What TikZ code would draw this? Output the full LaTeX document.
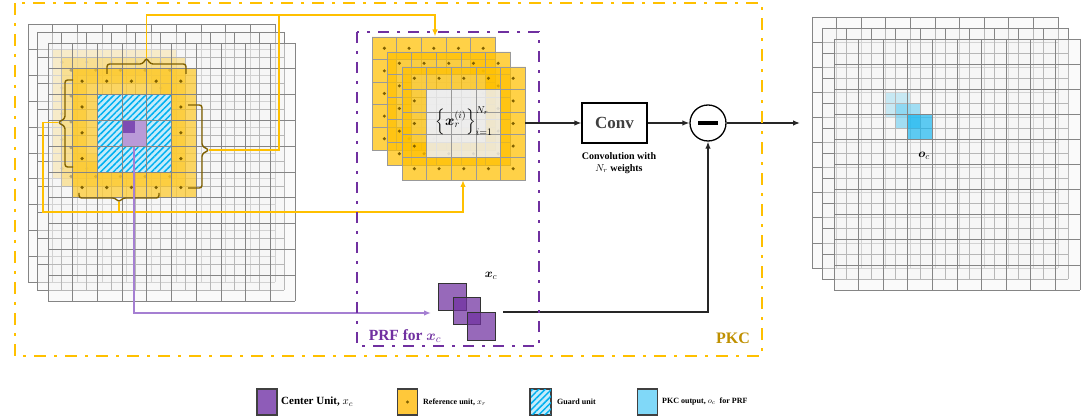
\documentclass[tikz,border=0pt]{standalone}
\usepackage{amsmath}
\usepackage{fontspec}
\setmainfont{Liberation Serif}
\usetikzlibrary{arrows.meta,patterns.meta,calc}
\definecolor{pkcY}{HTML}{FFC000}
\definecolor{pkcT}{HTML}{BF9000}
\definecolor{prfP}{HTML}{7030A0}
\definecolor{braceC}{HTML}{7F6000}
\definecolor{dotC}{HTML}{7F6000}
\definecolor{gridC}{HTML}{858585}
\definecolor{blueC}{HTML}{00B0F0}
\definecolor{lblue}{HTML}{C5EBFA}
\definecolor{purpL}{HTML}{A57FD2}
\definecolor{purpLight}{HTML}{B99AD8}
\definecolor{purpDark}{HTML}{7E4CB3}
\definecolor{legP}{HTML}{8E5CB8}
\definecolor{legY}{HTML}{FFC83A}
\definecolor{legB}{HTML}{80D8F8}
\definecolor{convT}{HTML}{404040}
\tikzset{
  gline/.style={draw=gridC, line width=0.7pt},
  basefill/.style={fill=white!96!black, fill opacity=0.45},
  yline/.style={draw=pkcY, line width=1.8pt},
  pline/.style={draw=purpL, line width=1.5pt},
  kline/.style={draw=black!85, line width=1.3pt},
  arr/.style={-{Latex[length=7pt,width=5.5pt]}},
  bracketsty/.style={draw=braceC, line width=1.4pt, rounded corners=2.5pt, line join=round},
  hatch/.style={pattern={Lines[angle=45,distance=4.5pt,line width=1.5pt]}, pattern color=blueC},
  legsq/.style={draw=black!75, line width=1.2pt, minimum width=20pt, minimum height=26pt, inner sep=0pt},
  legtxt/.style={anchor=west, inner sep=0pt, font=\bfseries\fontsize{8}{9}\selectfont},
  dotsty/.style={fill=dotC},
}
% left input layer: origin, front flag
\newcommand\LLayer[3]{%
\begin{scope}[shift={(#1,#2)}]
  \fill[basefill] (0,0) rectangle (247,258);
  \fill[pkcY, fill opacity=0.6, even odd rule] (24.7,25.8) rectangle (148.2,154.8) (49.4,51.6) rectangle (123.5,129);
  \ifnum#3=1
    \fill[lblue, even odd rule] (49.4,51.6) rectangle (123.5,129) (74.1,77.4) rectangle (98.8,103.2);
    \path[hatch, even odd rule] (49.4,51.6) rectangle (123.5,129) (74.1,77.4) rectangle (98.8,103.2);
    \fill[purpLight] (74.1,77.4) rectangle (98.8,103.2);
    \fill[purpDark] (74.1,77.4) rectangle (87.4,90.3);
  \fi
  \foreach \i in {1,...,5} {
    \fill[dotsty] ({(\i+0.5)*24.7-3},38.2) circle (1.8pt);
    \fill[dotsty] ({(\i+0.5)*24.7-3},144.5) circle (1.8pt);
  }
  \foreach \j in {2,3,4} {
    \fill[dotsty] (34.05,{(\j+0.5)*25.8-0.5}) circle (1.8pt);
    \fill[dotsty] (132.85,{(\j+0.5)*25.8-0.5}) circle (1.8pt);
  }
  \foreach \k in {0,...,10} {
    \draw[gline] ({\k*24.7},0) -- ({\k*24.7},258);
    \draw[gline] (0,{\k*25.8}) -- (247,{\k*25.8});
  }
\end{scope}}
% right output layer
\newcommand\RLayer[2]{%
\begin{scope}[shift={(#1,#2)}]
  \fill[basefill] (0,0) rectangle (246,251);
  \fill[blueC, fill opacity=0.62] (73.8,75.3) rectangle (98.4,100.4);
  \foreach \k in {0,...,10} {
    \draw[gline] ({\k*24.6},0) -- ({\k*24.6},251);
    \draw[gline] (0,{\k*25.1}) -- (246,{\k*25.1});
  }
\end{scope}}
% PRF reference sheet
\newcommand\PSheet[2]{%
\begin{scope}[shift={(#1,#2)}]
  \fill[pkcY, fill opacity=0.72, even odd rule] (0,0) rectangle (123.5,113) (24.7,22.6) rectangle (98.8,90.4);
  \fill[black!7, fill opacity=0.85] (24.7,22.6) rectangle (98.8,90.4);
  \foreach \i in {0,...,4} {
    \fill[dotsty] ({(\i+0.5)*24.7},11.3) circle (1.7pt);
    \fill[dotsty] ({(\i+0.5)*24.7},101.7) circle (1.7pt);
  }
  \foreach \j in {1,2,3} {
    \fill[dotsty] (12.35,{(\j+0.5)*22.6}) circle (1.7pt);
    \fill[dotsty] (111.15,{(\j+0.5)*22.6}) circle (1.7pt);
  }
  \foreach \k in {0,...,5} {
    \draw[draw=black!40, line width=0.8pt] ({\k*24.7},0) -- ({\k*24.7},113);
    \draw[draw=black!40, line width=0.8pt] (0,{\k*22.6}) -- (123.5,{\k*22.6});
  }
\end{scope}}
\begin{document}
\begin{tikzpicture}[x=1pt,y=-1pt]
\useasboundingbox (0,0) rectangle (1086,419);
\fill[white] (0,0) rectangle (1086,419);

% ---------- left input stack ----------
\LLayer{28}{24}{0}
\LLayer{37}{32}{0}
\LLayer{48}{43}{1}

% brackets (braces)
\draw[bracketsty] (107,74) -- (107,64) -- (142.5,64) -- (146.5,58) -- (150.5,64) -- (186,64) -- (186,74);
\draw[bracketsty] (73,80) -- (65,80) -- (65,118.5) -- (58,122.5) -- (65,126.5) -- (65,167) -- (73,167);
\draw[bracketsty] (188,105) -- (202,105) -- (202,146) -- (209,150) -- (202,154) -- (202,188) -- (188,188);
\draw[bracketsty] (79,193) -- (79,198) -- (115,198) -- (119,202) -- (123,198) -- (159,198) -- (159,193);
\coordinate (tb) at (146.5,58);
\coordinate (lbt) at (58,122.5);
\coordinate (rbt) at (209,150);
\coordinate (bbt) at (119,202);
\coordinate (cu) at (134,147);

% ---------- PRF stack ----------
\PSheet{372}{37}
\PSheet{387}{52}
\PSheet{402}{67}
\node[inner sep=0pt, font=\fontsize{14.5}{16}\selectfont] (setx) at (464,121)
  {$\left\{\boldsymbol{x}_r^{(i)}\right\}_{i=1}^{N_r}$};
\coordinate (prftop) at (435,36.5);
\coordinate (prfbot) at (463,180);
\coordinate (prfout) at (525,123);

% center-unit stack
\fill[prfP, fill opacity=0.72, draw=black!80, line width=1pt] (438,284) rectangle (466,311);
\fill[prfP, fill opacity=0.72, draw=black!80, line width=1pt] (453,298) rectangle (480,325);
\fill[prfP, fill opacity=0.72, draw=black!80, line width=1pt] (467,313) rectangle (495,340);
\node[inner sep=0pt, font=\fontsize{13}{15}\selectfont] (xcl) at (491,276) {$\boldsymbol{x}_c$};
\coordinate (xcin) at (431,313);
\coordinate (xcout) at (503,312);

% ---------- yellow connectors ----------
\coordinate (ctop) at (279,15);
\coordinate (cbl) at (43,212);
\draw[yline] (rbt) -| (ctop);
\draw[yline, arr] (tb) |- (ctop) -| (prftop);
\draw[yline] (bbt) -- (bbt|-cbl);
\draw[yline, arr] (lbt) -| (cbl) -| (prfbot);

% purple connector
\draw[pline, arr] (cu) |- (xcin);

% ---------- conv, minus ----------
\node[draw=black, line width=1.2pt, minimum width=65pt, minimum height=40pt, inner sep=0pt,
      text=convT, font=\bfseries\fontsize{17}{19}\selectfont] (conv) at (614.5,123) {Conv};
\node[font=\bfseries\fontsize{10}{12}\selectfont, align=center, inner sep=0pt] (convl) at (619,163)
  {Convolution with\\$N_r$ weights};
\node[circle, draw=black, line width=1.3pt, minimum size=36pt, inner sep=0pt] (minus) at (708,123)
  {\rule[-1.8pt]{20pt}{3.6pt}};
\coordinate (outin) at (800,123);
\draw[kline, arr] (prfout) -- (conv.west);
\draw[kline, arr] (conv.east) -- (minus.west);
\draw[kline, arr] (minus.east) -- (outin);
\draw[kline, arr] (xcout) -| (minus.south);

% ---------- output stack ----------
\RLayer{812}{17}
\RLayer{822}{28}
\RLayer{834}{39}
\node[inner sep=0pt, font=\fontsize{13}{15}\selectfont] (ocl) at (924,156) {$\boldsymbol{o}_c$};

% ---------- frames ----------
\draw[prfP, line width=2.6pt, dash pattern=on 11pt off 8pt on 3pt off 8pt] (357,32) rectangle (539,346);
\node[text=prfP, font=\bfseries\fontsize{15.5}{17}\selectfont, inner sep=0pt] (prfl) at (405,336) {PRF for $\boldsymbol{x}_c$};
\draw[pkcY, line width=2.6pt, dash pattern=on 12pt off 8pt on 3pt off 8pt] (15,3) rectangle (762,356);
\node[text=pkcT, font=\bfseries\fontsize{16}{18}\selectfont, inner sep=0pt] (pkcl) at (733,338) {PKC};

% ---------- legend ----------
\node[legsq, fill=legP] (lg1) at (267,402) {};
\node[legtxt, font=\bfseries\fontsize{11}{12}\selectfont] (lt1) at (281,402) {Center Unit, $x_c$};
\node[legsq, fill=legY] (lg2) at (407.5,402) {};
\fill[dotsty] (lg2.center) circle (1.6pt);
\node[legtxt] (lt2) at (423,402) {Reference unit, $x_r$};
\node[legsq, fill=lblue] (lg3) at (540.5,402) {};
\path[hatch] (lg3.south west) rectangle (lg3.north east);
\draw[black!75, line width=1.2pt] (lg3.south west) rectangle (lg3.north east);
\node[legtxt] (lt3) at (557,402) {Guard unit};
\node[legsq, fill=legB] (lg4) at (647.5,402) {};
\node[legtxt] (lt4) at (662,402) {PKC output, $o_c$\ \ for PRF};
\end{tikzpicture}
\end{document}
